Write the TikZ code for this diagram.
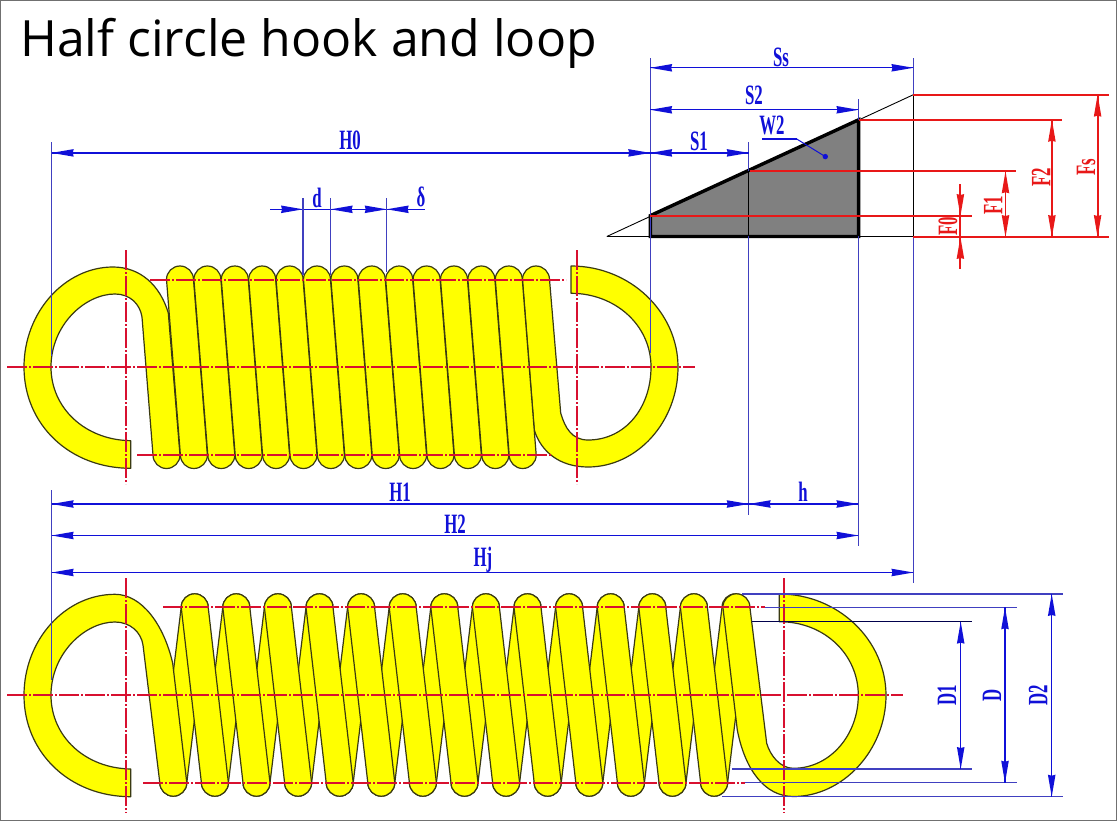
\documentclass[tikz,border=0pt]{standalone}
\usepackage{fontspec}
\usetikzlibrary{calc}
\setmainfont{Open Sans}
\newfontfamily\cad[FakeStretch=0.6]{Liberation Serif}
\definecolor{wireline}{HTML}{3A3A12}
\definecolor{wirefill}{HTML}{FFFF00}
\definecolor{axisred}{HTML}{D81030}
\definecolor{dimred}{HTML}{E81818}
\definecolor{dimblue}{HTML}{1010D8}
\definecolor{extblue}{HTML}{4040C0}
\definecolor{framegray}{HTML}{707070}
\definecolor{wedgegray}{HTML}{808080}
\tikzset{
  wire/.style={draw=wireline,fill=wirefill,line width=1.2pt,line join=round},
  thinblack/.style={draw=black,line width=0.9pt},
  bluelabel/.style={text=dimblue,font=\cad\bfseries\fontsize{28}{28}\selectfont,inner sep=0pt},
  redlabel/.style={text=dimred,font=\cad\bfseries\fontsize{28}{28}\selectfont,inner sep=0pt,rotate=90},
  bluevlabel/.style={bluelabel,rotate=90},
}
\newcommand\stad[4]{\draw[wire] (#1-13.5,#2) .. controls +(0,-7.46) and +(-7.46,0) .. (#1,#2-13.5) .. controls +(7.46,0) and +(0,-7.46) .. (#1+13.5,#2) -- (#3+13.5,#4) .. controls +(0,7.46) and +(7.46,0) .. (#3,#4+13.5) .. controls +(-7.46,0) and +(0,7.46) .. (#3-13.5,#4) -- cycle;}
% thin orthogonal lines as filled strips between named coordinates
\def\hw{0.7}
\newcommand\hl[3]{\fill[#1] ($(#2)+(0,-\hw)$) rectangle ($(#3)+(0,\hw)$);}
\newcommand\vl[3]{\fill[#1] ($(#2)+(-\hw,0)$) rectangle ($(#3)+(\hw,0)$);}
\newcommand\headtip[3]{\fill[#1,shift={(#2)},rotate=#3] (0,0) -- (-22,-3.8) -- (-21,0) -- (-22,3.8) -- cycle;}
\newcommand\dimH[3]{\hl{#1}{#2}{#3}\headtip{#1}{#2}{180}\headtip{#1}{#3}{0}}
\newcommand\dimV[3]{\vl{#1}{#2}{#3}\headtip{#1}{#2}{90}\headtip{#1}{#3}{270}}
% dash-dot centre lines: long dash, gap, dot, gap
\newcommand\axisH[3]{\foreach \u in {#1,\the\numexpr#1+26\relax,...,#2}{%
  \pgfmathsetmacro\ue{min(\u+20,#2)}\pgfmathsetmacro\ud{\u+22}%
  \fill[axisred] (\u,#3-0.95) rectangle (\ue,#3+0.95);%
  \ifdim\ud pt<#2pt \fill[axisred] (\ud,#3-0.95) rectangle (\ud+2,#3+0.95);\fi}}
\newcommand\axisV[3]{\foreach \u in {#1,\the\numexpr#1+26\relax,...,#2}{%
  \pgfmathsetmacro\ue{min(\u+20,#2)}\pgfmathsetmacro\ud{\u+22}%
  \fill[axisred] (#3-0.95,\u) rectangle (#3+0.95,\ue);%
  \ifdim\ud pt<#2pt \fill[axisred] (#3-0.95,\ud) rectangle (#3+0.95,\ud+2);\fi}}
\begin{document}
\begin{tikzpicture}[x=1pt,y=-1pt]
\useasboundingbox (0,0) rectangle (1117,821);
\fill[white] (0,0) rectangle (1117,821);
\draw[framegray,line width=1.5pt] (0.7,0.7) rectangle (1116.3,820.3);

% title
\node[anchor=base west,inner sep=0pt,font=\fontsize{50}{50}\selectfont] (title) at (20,57) {Half circle hook and loop};

% ---------- wedge diagram
\coordinate (apex) at (606.8,236.5);
\coordinate (wa) at (650.4,236.5);
\coordinate (wb) at (650.4,215.6);
\coordinate (wc) at (858.6,119.8);
\coordinate (wd) at (858.6,236.5);
\coordinate (tipS) at (913.4,94.7);
\coordinate (baseS) at (913.4,236.5);
\fill[wedgegray] (wa) -- (wb) -- (wc) -- (wd) -- cycle;
\draw[thinblack] (apex) -- (tipS);
\hl{black}{apex}{baseS}
\vl{black}{tipS}{baseS}
\coordinate (s1top) at (748.7,171.5);
\coordinate (s1bot) at (748.7,236.5);
\vl{black}{s1top}{s1bot}
\draw[black,line width=3.4pt,line join=miter] (wa) -- (wb) -- (wc) -- (wd) -- cycle;

% ---------- upper spring
\draw[wire] (571,266) .. controls (630,266) and (678,312) .. (678,367) .. controls (678,422) and (637,467) .. (588,467) .. controls (560,467) and (541,452) .. (534.3,430) -- (522.5,279.5) .. controls +(0,-7.46) and +(-7.46,0) .. (536,266) .. controls +(7.46,0) and +(0,-7.46) .. (549.5,279.5) -- (560.7,413) .. controls (565,428) and (572,440) .. (588,440) .. controls (625,440) and (651,408) .. (651,367) .. controls (651,325) and (615,293.3) .. (571,293.3) -- cycle;
\draw[wire] (130.7,468.3) -- (130.7,440.7) .. controls (85,440) and (51,408) .. (51,367) .. controls (51,325) and (85,294) .. (115,294) .. controls (130,294) and (140,304) .. (142,317) -- (153,455) .. controls +(0,7.46) and +(-7.46,0) .. (166.5,468.5) .. controls +(7.46,0) and +(0,7.46) .. (180,455) -- (168.3,313) .. controls (160,285) and (140,267) .. (113,267) .. controls (65,267) and (24,312) .. (24,367) .. controls (24,425) and (70,468.3) .. (130.7,468.3) -- cycle;
\foreach \i in {0,...,12}{
  \pgfmathsetmacro\ta{180+27.4*\i}
  \pgfmathsetmacro\tb{193.9+27.4*\i}
  \stad{\ta}{279.5}{\tb}{455}
}
\axisH{150}{566}{280.2}
\axisH{137}{550}{455}
\axisH{7}{695}{367.3}
\axisV{250}{484}{126}
\axisV{250}{484}{577.3}

% ---------- lower spring
\foreach \i in {0,...,13}{
  \pgfmathsetmacro\ta{194.7+41.6*\i}
  \pgfmathsetmacro\tb{173.3+41.6*\i}
  \stad{\ta}{607.3}{\tb}{782.7}
}
\draw[wire] (779.3,594) .. controls (838,594) and (886,640) .. (886,695.3) .. controls (886,750) and (843,796.5) .. (793.3,796.5) .. controls (765,796.5) and (745,770) .. (737.3,730) -- (722.9,607.3) .. controls +(0,-7.46) and +(-7.46,0) .. (736.4,593.8) .. controls +(7.46,0) and +(0,-7.46) .. (749.9,607.3) -- (766.7,743.3) .. controls (770,755) and (780,768.3) .. (793.3,768.3) .. controls (830,768.3) and (858.3,735) .. (858.3,695.3) .. controls (858.3,655) and (825,621.7) .. (779.3,621.7) -- cycle;
\draw[wire] (130.7,796.7) -- (130.7,769) .. controls (85,768.3) and (51,736.3) .. (51,695.3) .. controls (51,653.3) and (85,622) .. (115,622) .. controls (130,622) and (141,632) .. (143,645) -- (159.8,782.7) .. controls +(0,7.46) and +(-7.46,0) .. (173.3,796.2) .. controls +(7.46,0) and +(0,7.46) .. (186.8,782.7) -- (172.7,663.3) .. controls (164,625) and (142,594.3) .. (115,594.3) .. controls (65,594.3) and (24,640) .. (24,695.3) .. controls (24,753) and (70,796.7) .. (130.7,796.7) -- cycle;
\foreach \i in {0,...,12}{
  \pgfmathsetmacro\ta{194.7+41.6*\i}
  \pgfmathsetmacro\tb{214.9+41.6*\i}
  \stad{\ta}{607.3}{\tb}{782.7}
}
\axisH{163}{765}{607.3}
\axisH{143}{745}{782.7}
\axisH{7}{903}{695.3}
\axisV{578}{813}{126}
\axisV{578}{813}{784.3}

% ---------- blue extension lines
\coordinate (e1a) at (51.7,142.5);  \coordinate (e1b) at (51.7,356);
\coordinate (e2a) at (51.7,490);    \coordinate (e2b) at (51.7,680);
\coordinate (e3a) at (650.2,58);    \coordinate (e3b) at (650.2,353);
\coordinate (e4a) at (748.7,142.5); \coordinate (e4b) at (748.7,171.5);
\coordinate (e5a) at (748.7,236.5); \coordinate (e5b) at (748.7,515);
\coordinate (e6a) at (858.4,98.7);  \coordinate (e6b) at (858.4,119.8);
\coordinate (e7a) at (858.4,236.5); \coordinate (e7b) at (858.4,546);
\coordinate (e8a) at (913.4,58);    \coordinate (e8b) at (913.4,94.7);
\coordinate (e9a) at (913.4,236.5); \coordinate (e9b) at (913.4,583);
\foreach \n in {1,...,9}{\vl{extblue}{e\n a}{e\n b}}

% horizontal dimensions
\coordinate (ssl) at (650.2,67.8);  \coordinate (ssr) at (913.4,67.8);
\coordinate (s2l) at (650.2,109.8); \coordinate (s2r) at (858.4,109.8);
\coordinate (s1l) at (650.2,152.9); \coordinate (s1r) at (748.7,152.9);
\coordinate (h0l) at (51.7,152.9);  \coordinate (h0r) at (650.2,152.9);
\coordinate (h1l) at (51.7,504);    \coordinate (h1r) at (748.7,504);
\coordinate (hhr) at (858.4,504);
\coordinate (h2l) at (51.7,535.5);  \coordinate (h2r) at (858.4,535.5);
\coordinate (hjl) at (51.7,572.5);  \coordinate (hjr) at (913.4,572.5);
\dimH{dimblue}{ssl}{ssr}
\dimH{dimblue}{s2l}{s2r}
\dimH{dimblue}{s1l}{s1r}
\dimH{dimblue}{h0l}{h0r}
\dimH{dimblue}{h1l}{h1r}
\dimH{dimblue}{h1r}{hhr}
\dimH{dimblue}{h2l}{h2r}
\dimH{dimblue}{hjl}{hjr}

% d and delta
\coordinate (dx0) at (270,209.3); \coordinate (dx1) at (303,209.3);
\coordinate (dx2) at (330.7,209.3); \coordinate (dx3) at (386.7,209.3);
\coordinate (dx4) at (425,209.3);
\hl{dimblue}{dx0}{dx4}
\headtip{dimblue}{dx1}{0}
\headtip{dimblue}{dx2}{180}
\headtip{dimblue}{dx3}{0}
\headtip{dimblue}{dx3}{180}
\coordinate (dt1) at (303,198);   \coordinate (db1) at (303,275);
\coordinate (dt2) at (330.7,198); \coordinate (db2) at (330.7,275);
\coordinate (dt3) at (386.7,198); \coordinate (db3) at (386.7,272);
\vl{extblue}{dt1}{db1}
\vl{extblue}{dt2}{db2}
\vl{extblue}{dt3}{db3}

% W2 leader
\coordinate (w2a) at (762.4,139); \coordinate (w2b) at (796.7,139);
\coordinate (w2c) at (825.3,156.6);
\hl{dimblue}{w2a}{w2b}
\draw[dimblue,line width=1pt] (w2b) -- (w2c);
\fill[dimblue] (w2c) circle (2.7pt);

% lower right blue extension lines
\coordinate (q1a) at (742,594);     \coordinate (q1b) at (1062.7,594);
\coordinate (q2a) at (765,607.3);   \coordinate (q2b) at (1016.7,607.3);
\coordinate (q3a) at (751.7,621.7); \coordinate (q3b) at (971.7,621.7);
\coordinate (q4a) at (731.7,769);   \coordinate (q4b) at (971.7,769);
\coordinate (q5a) at (745,782.7);   \coordinate (q5b) at (1016.7,782.7);
\coordinate (q6a) at (721.7,796.7); \coordinate (q6b) at (1062.7,796.7);
\foreach \n in {1,2,4,5,6}{\hl{extblue}{q\n a}{q\n b}}
\hl{black!70!blue}{q3a}{q3b}
\coordinate (d1t) at (960.7,621.7); \coordinate (d1b) at (960.7,769);
\coordinate (d0t) at (1005,607.3);  \coordinate (d0b) at (1005,782.7);
\coordinate (d2t) at (1051.7,594);  \coordinate (d2b) at (1051.7,796.7);
\dimV{dimblue}{d1t}{d1b}
\dimV{dimblue}{d0t}{d0b}
\dimV{dimblue}{d2t}{d2b}

% red lines of the wedge
\def\hw{0.95}
\coordinate (r1a) at (913.4,94.7);  \coordinate (r1b) at (1109.3,94.7);
\coordinate (r2a) at (858.6,119.8); \coordinate (r2b) at (1062.3,119.8);
\coordinate (r3a) at (750,171.3);   \coordinate (r3b) at (1016,171.3);
\coordinate (r4a) at (650.4,216);   \coordinate (r4b) at (972,216);
\coordinate (r5a) at (913.4,237);   \coordinate (r5b) at (1109.3,237);
\foreach \n in {1,...,5}{\hl{dimred}{r\n a}{r\n b}}
\coordinate (fs1) at (1097.6,94.7);  \coordinate (fs2) at (1097.6,237);
\coordinate (f21) at (1051.9,119.8); \coordinate (f22) at (1051.9,237);
\coordinate (f11) at (1005.5,171.3); \coordinate (f12) at (1005.5,237);
\dimV{dimred}{fs1}{fs2}
\dimV{dimred}{f21}{f22}
\dimV{dimred}{f11}{f12}
\coordinate (f0a) at (960.4,184.5); \coordinate (f0b) at (960.4,216);
\coordinate (f0c) at (960.4,237);   \coordinate (f0d) at (960.4,269);
\vl{dimred}{f0a}{f0d}
\headtip{dimred}{f0b}{270}
\headtip{dimred}{f0c}{90}

% labels
\node[bluelabel] (lH0) at (350,140) {H0};
\node[bluelabel] (lS1) at (699,141) {S1};
\node[bluelabel] (lS2) at (754,95) {S2};
\node[bluelabel] (lSs) at (781,57) {Ss};
\node[bluelabel] (lW2) at (772,125) {W2};
\node[bluelabel] (ld) at (317,198) {d};
\node[bluelabel] (ldelta) at (421,197) {δ};
\node[bluelabel] (lH1) at (400,492) {H1};
\node[bluelabel] (lh) at (803,492) {h};
\node[bluelabel] (lH2) at (455,524) {H2};
\node[bluelabel] (lHj) at (483,560) {Hj};
\node[bluevlabel] (lD1) at (947,695) {D1};
\node[bluevlabel] (lD) at (992,695) {D};
\node[bluevlabel] (lD2) at (1038,695) {D2};
\node[redlabel] (lFs) at (1086,167) {Fs};
\node[redlabel] (lF2) at (1041,177) {F2};
\node[redlabel] (lF1) at (993,205) {F1};
\node[redlabel] (lF0) at (948,226) {F0};
\end{tikzpicture}
\end{document}
